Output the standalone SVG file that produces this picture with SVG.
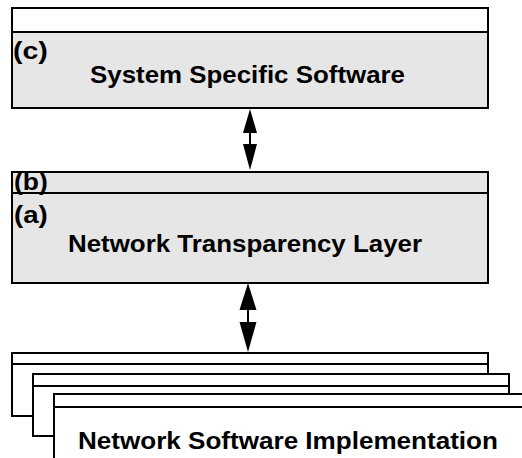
<svg xmlns="http://www.w3.org/2000/svg" width="522" height="458" viewBox="0 0 522 458">
<style>
.box{fill:#e6e6e6;stroke:#000;stroke-width:2}
.wbox{fill:#fff;stroke:#000;stroke-width:2}
.ln{fill:none;stroke:#000;stroke-width:2}
.t{font-family:"Liberation Sans",Arial,sans-serif;font-weight:bold;font-size:23px;fill:#000}
.ah{fill:#000;stroke:none}
</style>
<rect width="522" height="458" fill="#fff"/>
<g id="system-specific">
<rect class="box" x="12" y="8" width="476" height="100"/>
<rect class="wbox" x="12" y="8" width="476" height="24"/>
<text class="t" transform="translate(13,59) scale(1.125,1)" textLength="31" lengthAdjust="spacingAndGlyphs">(c)</text>
<text class="t" transform="translate(90,83) scale(1.125,1)" textLength="280" lengthAdjust="spacingAndGlyphs">System Specific Software</text>
</g>
<g id="network-transparency">
<rect class="box" x="12" y="172" width="476" height="111"/>
<line class="ln" x1="12" y1="193" x2="488" y2="193"/>
<text class="t" transform="translate(14,190) scale(1.125,1)" textLength="30" lengthAdjust="spacingAndGlyphs">(b)</text>
<text class="t" transform="translate(14,223) scale(1.125,1)" textLength="30" lengthAdjust="spacingAndGlyphs">(a)</text>
<text class="t" transform="translate(68,252) scale(1.125,1)" textLength="314.7" lengthAdjust="spacingAndGlyphs">Network Transparency Layer</text>
</g>
<g id="network-software">
<path class="wbox" d="M12,416 V353 H488 V374 H33 V416 Z"/>
<line class="ln" x1="12" y1="364" x2="488" y2="364"/>
<path class="wbox" d="M33,436 V374 H509 V394 H54 V436 Z"/>
<line class="ln" x1="33" y1="386" x2="509" y2="386"/>
<path class="wbox" d="M54,470 V394 H530 V470"/>
<line class="ln" x1="54" y1="407" x2="530" y2="407"/>
<text class="t" transform="translate(78,449) scale(1.125,1)" textLength="373.3" lengthAdjust="spacingAndGlyphs">Network Software Implementation</text>
</g>
<g id="connectors">
<line class="ln" x1="250" y1="130" x2="250" y2="146"/>
<polygon class="ah" points="250,109 243,133 257,133"/>
<polygon class="ah" points="250,170 243,144 257,144"/>
<line class="ln" x1="248" y1="308" x2="248" y2="325"/>
<polygon class="ah" points="248,283 239.5,310 256.5,310"/>
<polygon class="ah" points="248,352 239.5,322 256.5,322"/>
</g>
</svg>
